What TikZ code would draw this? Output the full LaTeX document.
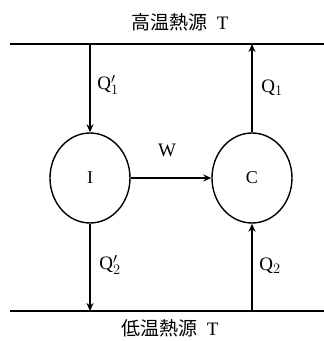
\documentclass[tikz,border=0pt]{standalone}
\usepackage{fontspec}
\setmainfont{Liberation Serif}
\newfontfamily\cjk{Noto Sans CJK JP}
\usetikzlibrary{arrows.meta,shapes.geometric}
\begin{document}
\begin{tikzpicture}[x=1pt,y=-1pt,
  reservoir/.style={line width=2pt},
  engine/.style={draw,ellipse,line width=1.4pt,minimum width=80pt,minimum height=90pt,inner sep=0pt,font=\fontsize{18}{20}\selectfont},
  flow/.style={line width=1.4pt,-{Stealth[length=8pt,width=7pt]}},
  lbl/.style={font=\fontsize{19}{21}\selectfont,inner sep=0pt},
  title/.style={font=\fontsize{19}{21}\selectfont,inner sep=0pt}]
\useasboundingbox (0,0) rectangle (324,341);
\coordinate (hl) at (10,44);
\coordinate (hr) at (324,44);
\coordinate (ll) at (10,311);
\coordinate (lr) at (324,311);
\draw[reservoir] (hl) -- (hr);
\draw[reservoir] (ll) -- (lr);
\node[title] (hot) at (180,22) {{\cjk 高温熱源}\ \ T};
\node[title] (cold) at (170,328) {{\cjk 低温熱源}\ \ T};
\node[engine] (I) at (90,178) {I};
\node[engine] (C) at (252,178) {C};
\coordinate (t1) at (90,44);
\coordinate (t2) at (252,44);
\coordinate (b1) at (90,311);
\coordinate (b2) at (252,311);
\draw[flow] (t1) -- (I.north);
\draw[flow] (C.north) -- (t2);
\draw[flow] (I.south) -- (b1);
\draw[flow] (b2) -- (C.south);
\draw[flow] (I.east) -- (C.west);
\node[lbl] (w) at (167,150) {W};
\node[lbl] (q1p) at (108,85) {Q$'_1$};
\node[lbl] (q1) at (272,88) {Q$_1$};
\node[lbl] (q2p) at (110,265) {Q$'_2$};
\node[lbl] (q2) at (270,266) {Q$_2$};
\end{tikzpicture}
\end{document}
